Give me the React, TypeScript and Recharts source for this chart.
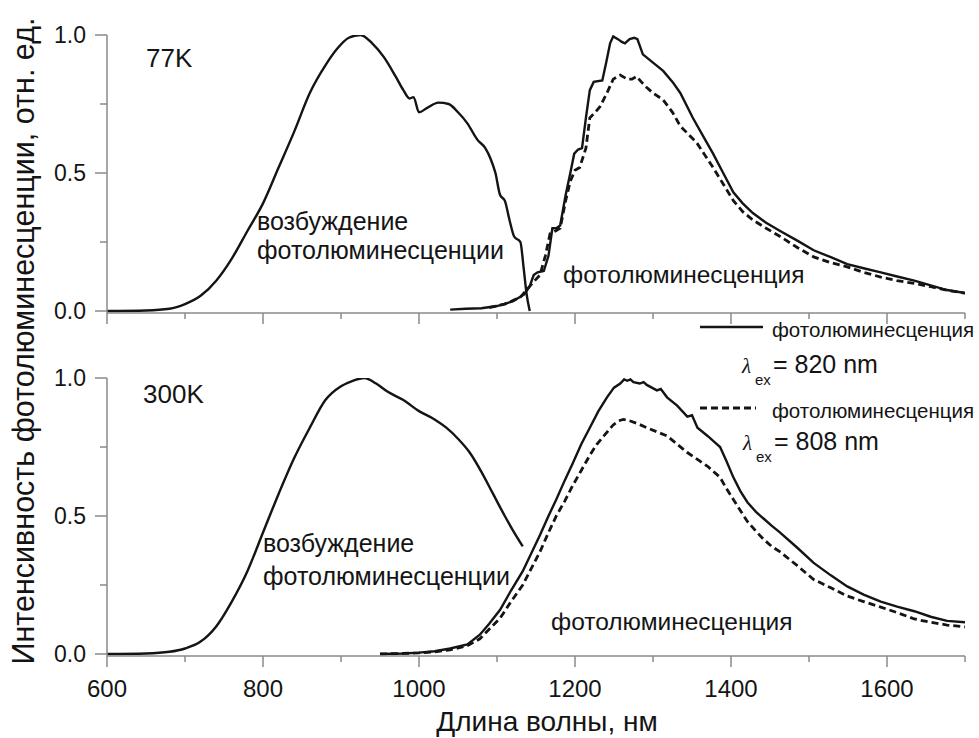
import React from "react";
import { LineChart, Line, XAxis, YAxis } from "recharts";

// Spectra: [wavelength nm, normalized intensity]
const excitation77K: [number, number][] = [
  [600, 0], [650, 0.002], [680, 0.008], [700, 0.025], [720, 0.055], [740, 0.11],
  [760, 0.19], [780, 0.29], [800, 0.39], [820, 0.52], [840, 0.65], [860, 0.79],
  [880, 0.89], [895, 0.95], [910, 0.99], [925, 1.0], [940, 0.97], [955, 0.92],
  [970, 0.85], [980, 0.8], [988, 0.77], [993, 0.775], [1000, 0.72], [1010, 0.735],
  [1025, 0.755], [1038, 0.75], [1050, 0.72], [1062, 0.68], [1075, 0.62], [1085, 0.59],
  [1092, 0.55], [1098, 0.5], [1104, 0.42], [1110, 0.4], [1116, 0.33], [1122, 0.27],
  [1130, 0.25], [1134, 0.16], [1138, 0.06], [1142, 0.0],
];

const pl820_77K: [number, number][] = [
  [1040, 0.005], [1060, 0.008], [1080, 0.01], [1100, 0.018], [1120, 0.035], [1135, 0.06],
  [1142, 0.09], [1147, 0.13], [1152, 0.14], [1160, 0.145], [1166, 0.2], [1171, 0.3],
  [1176, 0.3], [1181, 0.31], [1188, 0.42], [1194, 0.5], [1199, 0.57], [1204, 0.585],
  [1209, 0.59], [1214, 0.7], [1219, 0.8], [1224, 0.83], [1235, 0.835], [1240, 0.9],
  [1245, 0.97], [1249, 0.995], [1255, 0.985], [1260, 0.975], [1264, 0.97], [1270, 0.985],
  [1276, 0.99], [1280, 0.985], [1287, 0.93], [1300, 0.9], [1313, 0.87], [1325, 0.83],
  [1335, 0.79], [1351, 0.7], [1365, 0.63], [1377, 0.57], [1390, 0.5], [1403, 0.43],
  [1415, 0.39], [1428, 0.355], [1445, 0.32], [1463, 0.29], [1485, 0.255], [1506, 0.22],
  [1528, 0.195], [1549, 0.17], [1570, 0.155], [1592, 0.14], [1613, 0.125], [1635, 0.11],
  [1656, 0.093], [1677, 0.076], [1700, 0.065],
];

const pl808_77K: [number, number][] = [
  [1090, 0.012], [1110, 0.025], [1130, 0.05], [1145, 0.1], [1155, 0.13], [1162, 0.2],
  [1168, 0.28], [1175, 0.29], [1181, 0.3], [1188, 0.4], [1194, 0.47], [1200, 0.51],
  [1206, 0.52], [1214, 0.59], [1219, 0.7], [1226, 0.72], [1232, 0.74], [1241, 0.79],
  [1249, 0.84], [1258, 0.855], [1267, 0.84], [1273, 0.84], [1279, 0.85], [1285, 0.83],
  [1292, 0.81], [1300, 0.79], [1313, 0.765], [1325, 0.72], [1335, 0.67], [1356, 0.61],
  [1377, 0.52], [1390, 0.46], [1403, 0.4], [1415, 0.36], [1428, 0.33], [1445, 0.3],
  [1463, 0.27], [1485, 0.23], [1506, 0.196], [1528, 0.175], [1549, 0.16], [1570, 0.14],
  [1592, 0.123], [1613, 0.11], [1635, 0.1], [1656, 0.088], [1677, 0.075], [1700, 0.065],
];

const excitation300K: [number, number][] = [
  [600, 0], [650, 0.002], [680, 0.008], [700, 0.02], [720, 0.045], [740, 0.1],
  [760, 0.19], [780, 0.3], [800, 0.44], [820, 0.58], [840, 0.71], [860, 0.82],
  [880, 0.92], [900, 0.97], [915, 0.99], [930, 1.0], [945, 0.98], [960, 0.95],
  [980, 0.92], [1000, 0.88], [1020, 0.85], [1035, 0.82], [1050, 0.78], [1065, 0.73],
  [1080, 0.66], [1095, 0.58], [1110, 0.5], [1120, 0.45], [1133, 0.39],
];

const pl820_300K: [number, number][] = [
  [950, 0], [980, 0.002], [1000, 0.005], [1020, 0.01], [1040, 0.02], [1062, 0.035],
  [1078, 0.07], [1090, 0.11], [1104, 0.16], [1118, 0.23], [1133, 0.3], [1144, 0.365],
  [1155, 0.43], [1166, 0.5], [1176, 0.56], [1187, 0.63], [1197, 0.69], [1208, 0.76],
  [1219, 0.82], [1230, 0.88], [1241, 0.93], [1250, 0.965], [1258, 0.98], [1263, 0.995],
  [1267, 0.99], [1271, 0.995], [1275, 0.985], [1283, 0.98], [1288, 0.985], [1292, 0.975],
  [1305, 0.955], [1310, 0.96], [1318, 0.93], [1331, 0.9], [1344, 0.86], [1350, 0.865],
  [1357, 0.82], [1370, 0.79], [1380, 0.765], [1386, 0.75], [1394, 0.7],
  [1403, 0.64], [1412, 0.59], [1421, 0.55], [1432, 0.515], [1442, 0.49], [1452, 0.465],
  [1463, 0.44], [1485, 0.385], [1506, 0.33], [1528, 0.285], [1549, 0.245], [1570, 0.215],
  [1592, 0.19], [1613, 0.172], [1635, 0.155], [1656, 0.135], [1677, 0.12], [1700, 0.115],
];

const pl808_300K: [number, number][] = [
  [950, 0], [980, 0.002], [1000, 0.004], [1020, 0.008], [1040, 0.015], [1062, 0.03],
  [1078, 0.055], [1090, 0.09], [1104, 0.13], [1118, 0.19], [1133, 0.25], [1144, 0.31],
  [1155, 0.37], [1166, 0.44], [1176, 0.5], [1187, 0.555], [1197, 0.61], [1208, 0.665],
  [1219, 0.72], [1228, 0.76], [1237, 0.79], [1249, 0.83], [1256, 0.845], [1262, 0.85],
  [1270, 0.845], [1280, 0.835], [1292, 0.82], [1305, 0.805], [1318, 0.79], [1331, 0.76],
  [1344, 0.73], [1357, 0.705], [1370, 0.68], [1386, 0.64], [1394, 0.6], [1403, 0.56],
  [1412, 0.52], [1421, 0.48], [1432, 0.445], [1442, 0.415], [1452, 0.39], [1463, 0.37],
  [1485, 0.32], [1506, 0.27], [1528, 0.24], [1549, 0.21], [1570, 0.19], [1592, 0.17],
  [1613, 0.15], [1635, 0.127], [1656, 0.115], [1677, 0.105], [1700, 0.098],
];

const xTicks = [600, 700, 800, 900, 1000, 1100, 1200, 1300, 1400, 1500, 1600, 1700];
const yTicks = [0, 0.25, 0.5, 0.75, 1];
const yTickLabels: Record<string, string> = { "0": "0.0", "0.5": "0.5", "1": "1.0" };

const W = 979;
const H = 738;
const FONT = "'Liberation Sans', Arial, sans-serif";
const INK = "#141414";
const AXIS = "#8a8a8a";
const Y_AXIS_W = 60;
const X_AXIS_H = 50;
const SOLID_W = 2.4;
const DASH_W = 2.8;
const DASH = "7 4";

const toRows = (pts: [number, number][]) => pts.map(([nm, v]) => ({ nm, v }));

function XTick(props: any) {
  const { x, y, payload, showLabel } = props;
  const major = payload.value % 200 === 0;
  return (
    <g>
      <line x1={x} x2={x} y1={y} y2={y + (major ? 11 : 6)} stroke={AXIS} strokeWidth={1.5} />
      {showLabel && major && (
        <text x={x} y={y + 41} textAnchor="middle" fontSize={24} fontFamily={FONT} fill={INK}>
          {payload.value}
        </text>
      )}
    </g>
  );
}

function YTick(props: any) {
  const { x, y, payload } = props;
  const label = yTickLabels[String(payload.value)];
  return (
    <g>
      <line x1={x} x2={x - (label ? 12 : 7)} y1={y} y2={y} stroke={AXIS} strokeWidth={1.5} />
      {label && (
        <text x={x - 21} y={y + 8} textAnchor="end" fontSize={23} fontFamily={FONT} fill={INK}>
          {label}
        </text>
      )}
    </g>
  );
}

function Panel(props: {
  top: number;
  bottom: number;
  showLabels: boolean;
  excitation: [number, number][];
  pl820: [number, number][];
  pl808: [number, number][];
}) {
  const { top, bottom, showLabels, excitation, pl820, pl808 } = props;
  return (
    <div style={{ position: "absolute", left: 0, top: 0 }}>
      <LineChart
        width={W}
        height={H}
        margin={{ top, right: 14, bottom: H - bottom - X_AXIS_H, left: 107 - Y_AXIS_W }}
      >
        <XAxis
          type="number"
          dataKey="nm"
          domain={[600, 1700]}
          ticks={xTicks}
          interval={0}
          allowDataOverflow
          height={X_AXIS_H}
          tickSize={0}
          tickMargin={0}
          tickLine={false}
          axisLine={{ stroke: AXIS, strokeWidth: 1.5 }}
          tick={<XTick showLabel={showLabels} />}
        />
        <YAxis
          type="number"
          domain={[-0.0072, 1]}
          ticks={yTicks}
          interval={0}
          allowDataOverflow
          width={Y_AXIS_W}
          tickSize={0}
          tickMargin={0}
          tickLine={false}
          axisLine={{ stroke: AXIS, strokeWidth: 1.5 }}
          tick={<YTick />}
        />
        <Line data={toRows(excitation)} dataKey="v" type="monotone" stroke={INK} strokeWidth={SOLID_W} dot={false} isAnimationActive={false} />
        <Line data={toRows(pl808)} dataKey="v" type="linear" stroke={INK} strokeWidth={DASH_W} strokeDasharray={DASH} dot={false} isAnimationActive={false} />
        <Line data={toRows(pl820)} dataKey="v" type="linear" stroke={INK} strokeWidth={SOLID_W} dot={false} isAnimationActive={false} />
      </LineChart>
    </div>
  );
}

function T(props: { x: number; y: number; size: number; children: React.ReactNode; anchor?: "start" | "middle" | "end" }) {
  return (
    <text x={props.x} y={props.y} fontSize={props.size} fontFamily={FONT} fill={INK} textAnchor={props.anchor || "start"}>
      {props.children}
    </text>
  );
}

function Lambda(props: { x: number; y: number; value: string }) {
  const { x, y, value } = props;
  return (
    <g>
      <text x={x} y={y} fontSize={21} fontStyle="italic" fontFamily="'Liberation Serif', serif" fill={INK}>λ</text>
      <text x={x + 13} y={y + 12} fontSize={15} fontFamily={FONT} fill={INK}>ex</text>
      <text x={x + 31} y={y} fontSize={25} fontFamily={FONT} fill={INK}>= {value} nm</text>
    </g>
  );
}

export default function App() {
  return (
    <div style={{ position: "absolute", left: 0, top: 0, width: W, height: H, background: "#fff" }}>
      <Panel top={35} bottom={313} showLabels={false} excitation={excitation77K} pl820={pl820_77K} pl808={pl808_77K} />
      <Panel top={378} bottom={656} showLabels={true} excitation={excitation300K} pl820={pl820_300K} pl808={pl808_300K} />
      <svg width={W} height={H} style={{ position: "absolute", left: 0, top: 0, pointerEvents: "none" }}>
        <text
          transform="translate(34,341) rotate(-90)"
          textAnchor="middle"
          fontSize={30.5}
          fontFamily={FONT}
          fill={INK}
        >
          Интенсивность фотолюминесценции, отн. ед.
        </text>
        <T x={547} y={731} size={28} anchor="middle">Длина волны, нм</T>

        <T x={146} y={67} size={26}>77K</T>
        <T x={257} y={230} size={25}>возбуждение</T>
        <T x={257} y={259} size={25}>фотолюминесценции</T>
        <T x={563} y={283} size={24.5}>фотолюминесценция</T>

        <T x={143} y={403} size={26}>300K</T>
        <T x={263} y={552} size={25}>возбуждение</T>
        <T x={263} y={585} size={25}>фотолюминесценции</T>
        <T x={551} y={630} size={24.5}>фотолюминесценция</T>

        <line x1={700} x2={763} y1={327} y2={327} stroke={INK} strokeWidth={SOLID_W} />
        <T x={772} y={337} size={20.5}>фотолюминесценция</T>
        <Lambda x={742} y={373} value="820" />
        <line x1={700} x2={756} y1={408} y2={408} stroke={INK} strokeWidth={DASH_W} strokeDasharray={DASH} />
        <T x={772} y={418} size={20.5}>фотолюминесценция</T>
        <Lambda x={743} y={450} value="808" />
      </svg>
    </div>
  );
}
